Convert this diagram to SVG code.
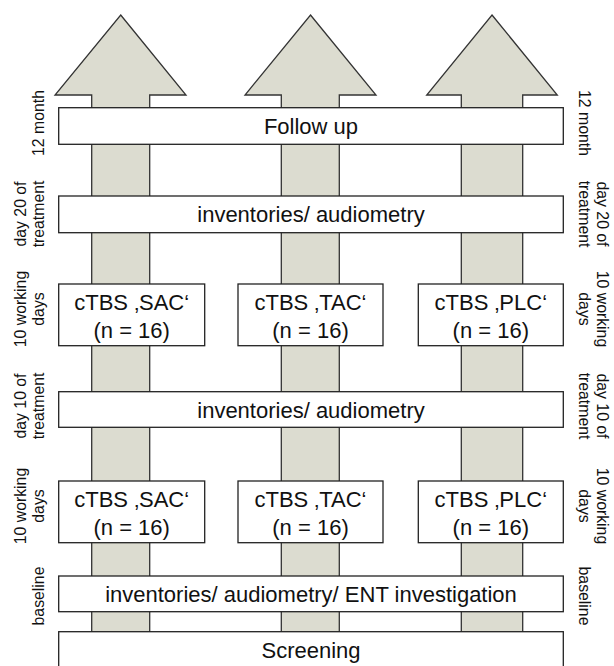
<svg xmlns="http://www.w3.org/2000/svg" width="614" height="666" viewBox="0 0 614 666">
<style>
.arrow{fill:#dcdcd0;stroke:#333;stroke-width:1.3;stroke-linejoin:miter}
.box{fill:#fff;stroke:#222;stroke-width:1.3}
.t{font-family:"Liberation Sans",Arial,Helvetica,sans-serif;font-size:22px;fill:#111;text-anchor:middle}
.s{font-family:"Liberation Sans",Arial,Helvetica,sans-serif;font-size:15.8px;fill:#111;text-anchor:middle}
</style>
<rect x="0" y="0" width="614" height="666" fill="#fff"/>
<g id="connectors">
<polygon class="arrow" points="120.7,15 186,95 149.7,95 149.7,660 91.7,660 91.7,95 55,95"/>
<polygon class="arrow" points="310.5,15 376,95 339.3,95 339.3,660 281.3,660 281.3,95 245,95"/>
<polygon class="arrow" points="492,15 557.3,95 522.7,95 522.7,660 461.3,660 461.3,95 426.7,95"/>
</g>
<g id="followup">
<rect class="box" x="58.7" y="107.7" width="504.6" height="36.6"/>
<text class="t" x="311" y="133.5">Follow up</text>
</g>
<g id="day20">
<rect class="box" x="58.7" y="196" width="504.6" height="36.7"/>
<text class="t" x="311" y="222">inventories/ audiometry</text>
</g>
<g id="sac2">
<rect class="box" x="58.7" y="284" width="146" height="61.7"/>
<text class="t" x="131.7" y="310">cTBS ‚SAC‘</text>
<text class="t" x="131.7" y="337.5">(n = 16)</text>
</g>
<g id="tac2">
<rect class="box" x="238" y="284" width="145" height="61.7"/>
<text class="t" x="310.5" y="310">cTBS ‚TAC‘</text>
<text class="t" x="310.5" y="337.5">(n = 16)</text>
</g>
<g id="plc2">
<rect class="box" x="418.3" y="284" width="145" height="61.7"/>
<text class="t" x="490.8" y="310">cTBS ‚PLC‘</text>
<text class="t" x="490.8" y="337.5">(n = 16)</text>
</g>
<g id="day10">
<rect class="box" x="58.7" y="391.7" width="504.6" height="35.6"/>
<text class="t" x="311" y="417.5">inventories/ audiometry</text>
</g>
<g id="sac1">
<rect class="box" x="58.7" y="481" width="146" height="61.7"/>
<text class="t" x="131.7" y="507">cTBS ‚SAC‘</text>
<text class="t" x="131.7" y="534.5">(n = 16)</text>
</g>
<g id="tac1">
<rect class="box" x="238" y="481" width="145" height="61.7"/>
<text class="t" x="310.5" y="507">cTBS ‚TAC‘</text>
<text class="t" x="310.5" y="534.5">(n = 16)</text>
</g>
<g id="plc1">
<rect class="box" x="418.3" y="481" width="145" height="61.7"/>
<text class="t" x="490.8" y="507">cTBS ‚PLC‘</text>
<text class="t" x="490.8" y="534.5">(n = 16)</text>
</g>
<g id="baseline">
<rect class="box" x="58.7" y="576" width="504.6" height="35.7"/>
<text class="t" x="311" y="601.8">inventories/ audiometry/ ENT investigation</text>
</g>
<g id="screening">
<rect class="box" x="58.7" y="631.7" width="504.6" height="60"/>
<text class="t" x="311" y="657.5">Screening</text>
</g>
<g id="left-labels">
<text class="s" transform="translate(44,123) rotate(-90)">12 month</text>
<text class="s" transform="translate(25.5,214) rotate(-90)">day 20 of</text>
<text class="s" transform="translate(44,214) rotate(-90)">treatment</text>
<text class="s" transform="translate(25.5,309) rotate(-90)">10 working</text>
<text class="s" transform="translate(44,309) rotate(-90)">days</text>
<text class="s" transform="translate(25.5,406) rotate(-90)">day 10 of</text>
<text class="s" transform="translate(44,406) rotate(-90)">treatment</text>
<text class="s" transform="translate(25.5,506) rotate(-90)">10 working</text>
<text class="s" transform="translate(44,506) rotate(-90)">days</text>
<text class="s" transform="translate(44,596) rotate(-90)">baseline</text>
</g>
<g id="right-labels">
<text class="s" transform="translate(578.5,123) rotate(90)">12 month</text>
<text class="s" transform="translate(597,214) rotate(90)">day 20 of</text>
<text class="s" transform="translate(578.5,214) rotate(90)">treatment</text>
<text class="s" transform="translate(597,309) rotate(90)">10 working</text>
<text class="s" transform="translate(578.5,309) rotate(90)">days</text>
<text class="s" transform="translate(597,406) rotate(90)">day 10 of</text>
<text class="s" transform="translate(578.5,406) rotate(90)">treatment</text>
<text class="s" transform="translate(597,506) rotate(90)">10 working</text>
<text class="s" transform="translate(578.5,506) rotate(90)">days</text>
<text class="s" transform="translate(578.5,596) rotate(90)">baseline</text>
</g>
</svg>
